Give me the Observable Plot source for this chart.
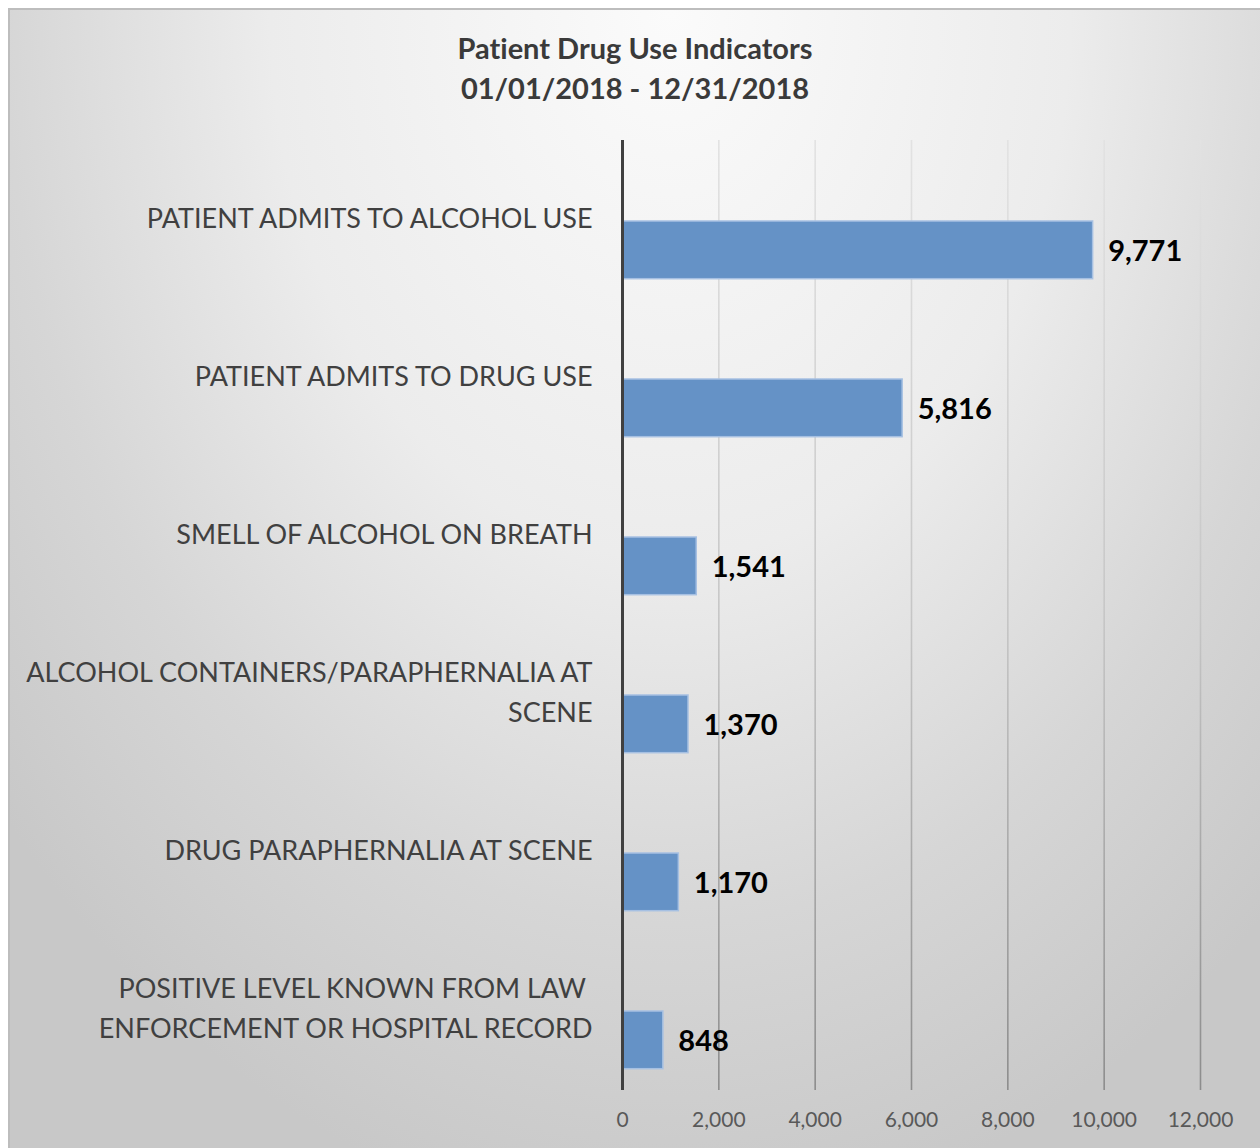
<!DOCTYPE html>
<html>
<head>
<meta charset="utf-8">
<script src="https://cdn.jsdelivr.net/npm/d3@7"></script>
<script src="https://cdn.jsdelivr.net/npm/@observablehq/plot@0.6"></script>
<style>
  html, body { margin: 0; padding: 0; background: #ffffff; }
  #page { position: relative; width: 1260px; height: 1148px; overflow: hidden; }
  #frame {
    position: absolute; left: 8px; top: 8px; width: 1270px; height: 1160px;
    border-top: 2px solid #bdbdbd; border-left: 2px solid #bdbdbd;
    background: radial-gradient(ellipse 70% 105% at 52% 0%, #fbfbfb 0%, #ececec 45%, #d6d6d6 75%, #c8c8c8 100%);
  }
  #title {
    position: absolute; left: 0; top: 28px; width: 1270px; text-align: center;
    font-family: Lato, "Open Sans", sans-serif; font-weight: 700; font-size: 29px;
    line-height: 40px; color: #3a3a3a; font-variant-ligatures: none;
  }
  #chart { position: absolute; left: 0; top: 120px; }
</style>
</head>
<body>
<div id="page">
  <div id="frame"></div>
  <div id="title">Patient Drug Use Indicators<br>01/01/2018 - 12/31/2018</div>
  <div id="chart"></div>
</div>
<script>
const categories = [
  "PATIENT ADMITS TO ALCOHOL USE",
  "PATIENT ADMITS TO DRUG USE",
  "SMELL OF ALCOHOL ON BREATH",
  "ALCOHOL CONTAINERS/PARAPHERNALIA AT SCENE",
  "DRUG PARAPHERNALIA AT SCENE",
  "POSITIVE LEVEL KNOWN FROM LAW ENFORCEMENT OR HOSPITAL RECORD"
];
const tickLabels = [
  "PATIENT ADMITS TO ALCOHOL USE",
  "PATIENT ADMITS TO DRUG USE",
  "SMELL OF ALCOHOL ON BREATH",
  "ALCOHOL CONTAINERS/PARAPHERNALIA AT\nSCENE",
  "DRUG PARAPHERNALIA AT SCENE",
  "POSITIVE LEVEL KNOWN FROM LAW \nENFORCEMENT OR HOSPITAL RECORD"
];
const values = [9771, 5816, 1541, 1370, 1170, 848];
const xTicks = [0, 2000, 4000, 6000, 8000, 10000, 12000];

const data = categories.map((c, i) => ({category: c, value: values[i]}));
const labelOf = new Map(categories.map((c, i) => [c, tickLabels[i]]));
const fmt = d3.format(",");

const chart = Plot.plot({
  width: 1260,
  height: 1028,
  marginTop: 20,
  marginBottom: 58,
  marginLeft: 622,
  marginRight: 60,
  style: {fontFamily: "Lato, 'Open Sans', sans-serif", background: "transparent", overflow: "visible"},
  x: {domain: [0, 12000]},
  y: {type: "band", domain: categories, paddingInner: 0, paddingOuter: 0},
  marks: [
    Plot.gridX({ticks: xTicks, stroke: "url(#gridGrad)", strokeOpacity: 1, strokeWidth: 1.6}),
    Plot.barX(data, {
      x: "value", y: "category",
      fill: "#6592c6", stroke: "#a6c0e2", strokeWidth: 1.5,
      insetTop: 80, insetBottom: 20.3
    }),
    Plot.text(data, {
      x: "value", y: "category", text: d => fmt(d.value),
      dx: 15, dy: 31, textAnchor: "start",
      fontSize: 29, fontWeight: "bold", fill: "#000000"
    }),
    Plot.ruleX([0], {stroke: "#404040", strokeWidth: 3}),
    Plot.axisX({
      ticks: xTicks, tickSize: 0, tickPadding: 22, fontSize: 21,
      color: "#595959", tickFormat: fmt, label: null
    }),
    Plot.axisY({
      tickSize: 0, tickPadding: 30, fontSize: 27, lineHeight: 40 / 27, dy: -5,
      color: "#404040", tickFormat: d => labelOf.get(d), label: null
    })
  ]
});

const ns = "http://www.w3.org/2000/svg";
const defs = document.createElementNS(ns, "defs");
const grad = document.createElementNS(ns, "linearGradient");
grad.setAttribute("id", "gridGrad");
grad.setAttribute("gradientUnits", "userSpaceOnUse");
grad.setAttribute("x1", "0"); grad.setAttribute("y1", "20");
grad.setAttribute("x2", "0"); grad.setAttribute("y2", "970");
[["0%", "#e2e2e2"], ["50%", "#c6c6c6"], ["100%", "#8c8c8c"]].forEach(([o, c]) => {
  const s = document.createElementNS(ns, "stop");
  s.setAttribute("offset", o); s.setAttribute("stop-color", c);
  grad.appendChild(s);
});
defs.appendChild(grad);
chart.insertBefore(defs, chart.firstChild);

document.getElementById("chart").appendChild(chart);
</script>
</body>
</html>
